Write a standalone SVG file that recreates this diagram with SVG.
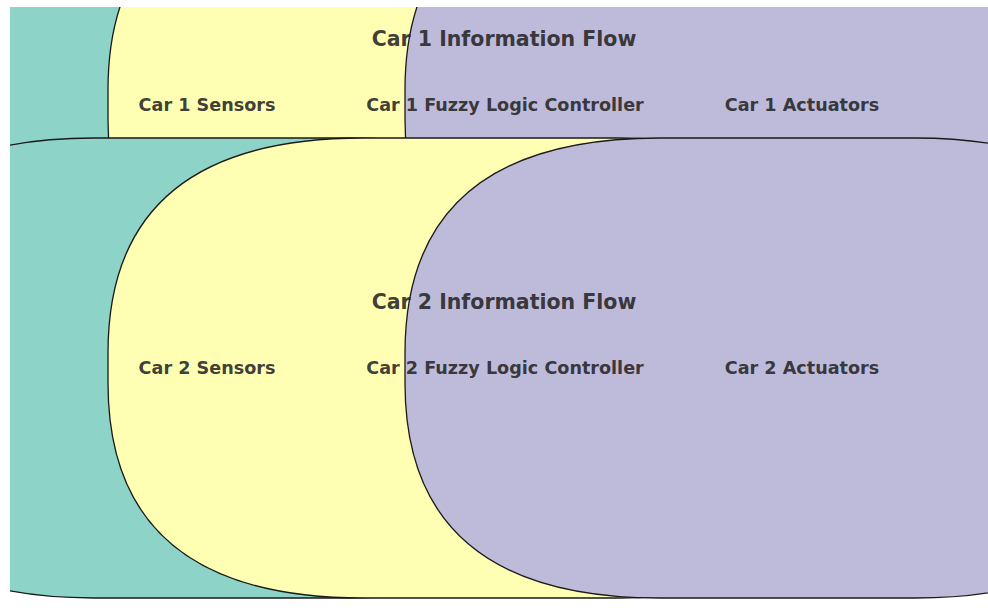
<svg xmlns="http://www.w3.org/2000/svg" width="988" height="612" viewBox="0 0 988 612">
  <style>
    .box { stroke: #1a1a1a; stroke-width: 1.3; }
    .teal { fill: #8dd3c7; }
    .yellow { fill: #ffffb3; }
    .purple { fill: #bebada; }
    .title { font-family: "DejaVu Sans", "Liberation Sans", sans-serif; font-weight: bold; font-size: 20.5px; fill: #262626; fill-opacity: 0.9; text-anchor: middle; }
    .label { font-family: "DejaVu Sans", "Liberation Sans", sans-serif; font-weight: bold; font-size: 17.6px; fill: #262626; fill-opacity: 0.9; text-anchor: middle; }
  </style>
  <defs>
    <clipPath id="axes">
      <rect x="10" y="7" width="978" height="593"/>
    </clipPath>
  </defs>
  <rect x="0" y="0" width="988" height="612" fill="#ffffff"/>
  <g clip-path="url(#axes)">
    <g id="car1">
      <g id="car1-sensors">
        <path class="box teal" d="M 94,-125 L 349,-125 Q 604,-125 604,90 L 604,120 Q 604,335 349,335 L 94,335 Q -161,335 -161,120 L -161,90 Q -161,-125 94,-125 Z"/>
      </g>
      <g id="car1-controller">
        <path class="box yellow" d="M 363,-125 L 618,-125 Q 873,-125 873,90 L 873,120 Q 873,335 618,335 L 363,335 Q 108,335 108,120 L 108,90 Q 108,-125 363,-125 Z"/>
      </g>
      <g id="car1-actuators">
        <path class="box purple" d="M 660,-125 L 915,-125 Q 1170,-125 1170,90 L 1170,120 Q 1170,335 915,335 L 660,335 Q 405,335 405,120 L 405,90 Q 405,-125 660,-125 Z"/>
      </g>
      <text class="title" x="504" y="46">Car 1 Information Flow</text>
      <text class="label" x="207" y="111">Car 1 Sensors</text>
      <text class="label" x="505" y="111">Car 1 Fuzzy Logic Controller</text>
      <text class="label" x="802" y="111">Car 1 Actuators</text>
    </g>
    <g id="car2">
      <g id="car2-sensors">
        <path class="box teal" d="M 94,138 L 349,138 Q 604,138 604,353 L 604,383 Q 604,598 349,598 L 94,598 Q -161,598 -161,383 L -161,353 Q -161,138 94,138 Z"/>
      </g>
      <g id="car2-controller">
        <path class="box yellow" d="M 363,138 L 618,138 Q 873,138 873,353 L 873,383 Q 873,598 618,598 L 363,598 Q 108,598 108,383 L 108,353 Q 108,138 363,138 Z"/>
      </g>
      <g id="car2-actuators">
        <path class="box purple" d="M 660,138 L 915,138 Q 1170,138 1170,353 L 1170,383 Q 1170,598 915,598 L 660,598 Q 405,598 405,383 L 405,353 Q 405,138 660,138 Z"/>
      </g>
      <text class="title" x="504" y="309">Car 2 Information Flow</text>
      <text class="label" x="207" y="374">Car 2 Sensors</text>
      <text class="label" x="505" y="374">Car 2 Fuzzy Logic Controller</text>
      <text class="label" x="802" y="374">Car 2 Actuators</text>
    </g>
  </g>
  <g id="connectors"/>
</svg>
